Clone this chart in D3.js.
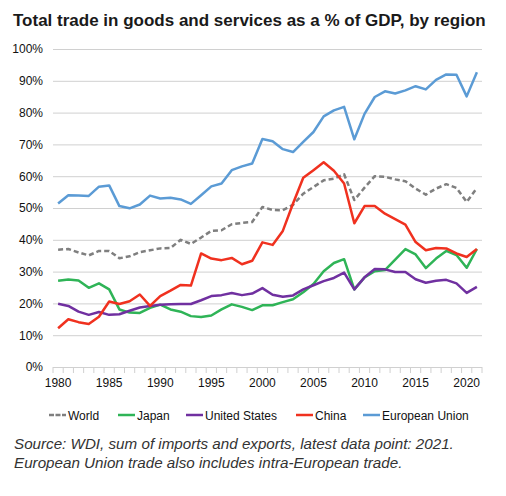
<!DOCTYPE html>
<html><head><meta charset="utf-8">
<script src="https://cdn.jsdelivr.net/npm/d3@7"></script>
<style>body{margin:0;background:#fff;} svg{display:block;font-family:"Liberation Sans",Arial,sans-serif;}</style>
</head><body><svg id="c" width="506" height="496"></svg>
<script>
const years = d3.range(1980, 2022);
const world = [36.9,37.1,36.0,35.1,36.5,36.5,34.2,34.8,36.1,36.7,37.3,37.4,40.0,38.7,40.7,42.8,43.0,44.9,45.3,45.6,50.3,49.4,49.3,51.0,54.5,56.6,58.7,59.2,60.6,52.5,56.4,60.0,59.8,59.0,58.4,56.1,54.2,56.1,57.5,56.3,51.9,56.3];
const japan = [27.1,27.5,27.2,24.9,26.3,24.4,18.1,17.1,17.0,18.6,19.6,18.1,17.4,16.0,15.7,16.2,18.1,19.7,18.9,17.9,19.4,19.4,20.4,21.3,23.5,26.1,30.1,32.7,33.9,24.4,28.2,30.1,30.5,33.8,37.1,35.4,31.1,34.1,36.5,35.2,31.2,37.1];
const us = [19.9,19.2,17.4,16.4,17.3,16.4,16.6,17.7,18.7,19.2,19.6,19.7,19.8,19.8,21.0,22.3,22.6,23.3,22.6,23.1,24.8,22.7,22.1,22.5,24.4,25.7,27.0,28.0,29.7,24.4,28.2,30.8,30.7,29.9,29.9,27.6,26.5,27.1,27.4,26.3,23.3,25.2];
const china = [12.2,15.0,14.1,13.5,15.8,20.6,19.8,20.7,22.8,19.2,22.3,24.0,25.8,25.6,35.7,34.1,33.6,34.3,32.3,33.4,39.2,38.4,42.8,51.4,59.5,61.9,64.4,61.7,57.7,45.2,50.6,50.6,48.2,46.5,44.8,39.3,36.7,37.4,37.3,35.7,34.6,37.1];
const eu = [51.4,54.0,53.9,53.8,56.7,57.1,50.6,49.9,51.1,53.9,53.0,53.2,52.7,51.3,54.0,56.8,57.7,61.9,63.1,64.0,71.7,71.0,68.5,67.6,70.8,73.9,78.8,80.7,81.8,71.6,79.6,84.9,86.7,86.0,87.0,88.3,87.3,90.3,92.0,91.9,85.1,92.7];
const seriesNames = ["World","Japan","United States","China","European Union"];
const seriesColors = ["#7f7f7f","#2fb457","#7030a0","#f0311f","#5b9bd5"];
const yTicks = [0,10,20,30,40,50,60,70,80,90,100];
const xLabels = [1980,1985,1990,1995,2000,2005,2010,2015,2020];
const titleText = "Total trade in goods and services as a % of GDP, by region";
const sourceLines = ["Source: WDI, sum of imports and exports, latest data point: 2021.","European Union trade also includes intra-European trade."];

const data = [world, japan, us, china, eu];
const svg = d3.select("#c");
const x = d3.scaleBand().domain(years).range([53, 482]);
const y = d3.scaleLinear().domain([0, 100]).range([367, 49]);
const cx = d => x(d) + x.bandwidth()/2;

svg.append("text").attr("x", 13).attr("y", 26).attr("font-size", 17).attr("font-weight", "bold").attr("fill", "#1a1a1a").text(titleText);

// gridlines and y labels
const ya = svg.append("g").attr("transform", "translate(53,0)")
  .call(d3.axisLeft(y).tickValues(yTicks).tickSize(-429).tickFormat(d => d + "%").tickPadding(10));
ya.select(".domain").remove();
ya.selectAll(".tick line").attr("stroke", "#d0d0d0").attr("stroke-width", 1);
ya.selectAll(".tick text").attr("font-size", 12).attr("fill", "#111").attr("font-family", "Liberation Sans, Arial, sans-serif");

// x axis ticks at band boundaries
const bounds = years.map(d => x(d)).concat([x(years[years.length-1]) + x.bandwidth()]);
svg.append("g").selectAll("line").data(bounds).join("line")
  .attr("x1", d => d).attr("x2", d => d).attr("y1", y(0)).attr("y2", y(0) + 6)
  .attr("stroke", "#d0d0d0");
svg.append("g").selectAll("text").data(xLabels).join("text")
  .attr("x", d => cx(d)).attr("y", 387).attr("text-anchor", "middle")
  .attr("font-size", 12).attr("fill", "#111").text(d => d);

// lines
const line = d3.line().x((d, i) => cx(years[i])).y(d => y(d));
data.forEach((s, k) => {
  svg.append("path").datum(s).attr("d", line).attr("fill", "none")
    .attr("stroke", seriesColors[k]).attr("stroke-width", 2.5)
    .attr("stroke-linejoin", "round")
    .attr("stroke-dasharray", k === 0 ? "5,3" : null);
});

// legend
const legX = [49, 118, 186, 296, 363];
const leg = svg.append("g");
seriesNames.forEach((n, k) => {
  leg.append("line").attr("x1", legX[k]).attr("x2", legX[k] + 17).attr("y1", 415).attr("y2", 415)
    .attr("stroke", seriesColors[k]).attr("stroke-width", 2.5)
    .attr("stroke-dasharray", k === 0 ? "5,1.5" : null);
  leg.append("text").attr("x", legX[k] + 19).attr("y", 419.5).attr("font-size", 12).attr("fill", "#111").text(n);
});

// source
sourceLines.forEach((t, i) => {
  svg.append("text").attr("x", 14).attr("y", 448.5 + i * 19).attr("font-size", 15.2)
    .attr("font-style", "italic").attr("fill", "#333").text(t);
});
</script></body></html>
